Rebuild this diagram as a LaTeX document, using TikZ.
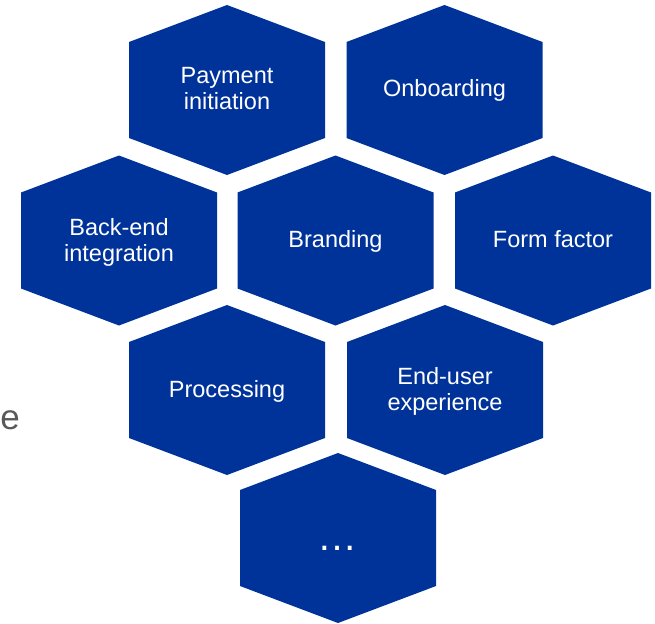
\documentclass[tikz,border=0pt]{standalone}
\usepackage{fontspec}
\setmainfont{Liberation Sans}
\definecolor{hexblue}{HTML}{003399}
\definecolor{sidegray}{HTML}{595959}
\newcommand\hexcell[2]{%
  \fill[hexfill] (#1,#2-85) -- (#1+98,#2-48) -- (#1+98,#2+48) -- (#1,#2+85) -- (#1-98,#2+48) -- (#1-98,#2-48) -- cycle;}
\begin{document}
\begin{tikzpicture}[x=1pt,y=-1pt,
  hexfill/.style={fill=hexblue},
  hexlabel/.style={text=white,font=\fontsize{23.5}{26}\selectfont,align=center,anchor=base,inner sep=0pt}]
\useasboundingbox (0,0) rectangle (655,623);
\hexcell{227}{90}
\hexcell{444.5}{90}
\hexcell{119}{240.5}
\hexcell{335.5}{240.5}
\hexcell{553}{240.5}
\hexcell{227}{390}
\hexcell{445}{390}
\hexcell{338}{538}
\node[hexlabel] (pay) at (227,110) {Payment\\initiation};
\node[hexlabel] (onb) at (444.5,97) {Onboarding};
\node[hexlabel] (back) at (119,261) {Back-end\\integration};
\node[hexlabel] (brand) at (335.5,247.5) {Branding};
\node[hexlabel] (form) at (553,247.5) {Form factor};
\node[hexlabel] (proc) at (227,397) {Processing};
\node[hexlabel] (endu) at (445,410) {End-user\\experience};
\node[hexlabel,font=\fontsize{40}{44}\selectfont] (more) at (337,550) {…};
\node[font=\fontsize{35}{40}\selectfont,text=sidegray,anchor=base east,inner sep=0pt] (side) at (20,429) {e};
\end{tikzpicture}
\end{document}
